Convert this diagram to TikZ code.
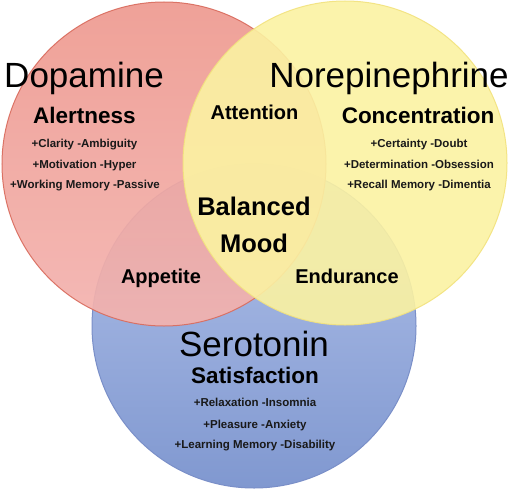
\documentclass[tikz,border=0pt]{standalone}
\usepackage{fontspec}
\setmainfont{Liberation Sans}
\usepackage{xcolor}
\usepackage{tikz}
\usetikzlibrary{positioning}

\definecolor{dopfill}{HTML}{EE998F}
\definecolor{dopfillb}{HTML}{F3B3AF}
\definecolor{dopline}{HTML}{D96C5E}
\definecolor{norfill}{HTML}{FBF2A2}
\definecolor{norline}{HTML}{F2E27E}
\definecolor{serfill}{HTML}{B2C2EA}
\definecolor{serfillb}{HTML}{8098D0}
\definecolor{serline}{HTML}{7A8FC8}

\tikzset{
  ring/.style={circle, inner sep=0pt, minimum size=324pt, line width=1pt},
  transmitter/.style={anchor=base, inner sep=0pt, font=\fontsize{35}{40}\selectfont},
  quality/.style={anchor=base, inner sep=0pt, font=\bfseries\fontsize{22.5}{26}\selectfont},
  overlap/.style={anchor=base, inner sep=0pt, font=\bfseries\fontsize{20}{24}\selectfont},
  effect/.style={anchor=base, inner sep=0pt, text=black!90, font=\bfseries\fontsize{11.5}{14}\selectfont},
}

\begin{document}
\begin{tikzpicture}[x=1pt, y=-1pt]
	\useasboundingbox (0, 0) rectangle (508, 492);
	% circles:
	\node[ring, draw=serline, top color=serfill, bottom color=serfillb](SER) at (254, 326){};
	\node[ring, draw=dopline, top color=dopfill, bottom color=dopfillb, opacity=0.92](DOP) at (164, 164){};
	\node[ring, draw=norline, fill=norfill, opacity=0.9](NOR) at (345, 163){};
	% labels:
	\node[transmitter](T1) at (84, 88){Dopamine};
	\node[quality](Q1) at (84.5, 123){Alertness};
	\node[effect](E1) at (84.5, 147){+Clarity -Ambiguity};
	\node[effect](E2) at (84.5, 168){+Motivation -Hyper};
	\node[effect](E3) at (85, 188){+Working Memory -Passive};
	\node[transmitter](T2) at (389, 88){Norepinephrine};
	\node[quality](Q2) at (418, 123){Concentration};
	\node[effect](E4) at (419, 147){+Certainty -Doubt};
	\node[effect](E5) at (419, 168){+Determination -Obsession};
	\node[effect](E6) at (419, 188){+Recall Memory -Dimentia};
	\node[overlap](O1) at (254.5, 119){Attention};
	\node[overlap, font=\bfseries\fontsize{25.5}{30}\selectfont](O2) at (254, 215){Balanced};
	\node[overlap, font=\bfseries\fontsize{25.5}{30}\selectfont](O3) at (254, 252){Mood};
	\node[overlap](O4) at (161, 283){Appetite};
	\node[overlap](O5) at (347, 283){Endurance};
	\node[transmitter](T3) at (254, 356){Serotonin};
	\node[quality](Q3) at (255, 383){Satisfaction};
	\node[effect](E7) at (255, 406){+Relaxation -Insomnia};
	\node[effect](E8) at (255, 428){+Pleasure -Anxiety};
	\node[effect](E9) at (255, 448){+Learning Memory -Disability};
\end{tikzpicture}
\end{document}
